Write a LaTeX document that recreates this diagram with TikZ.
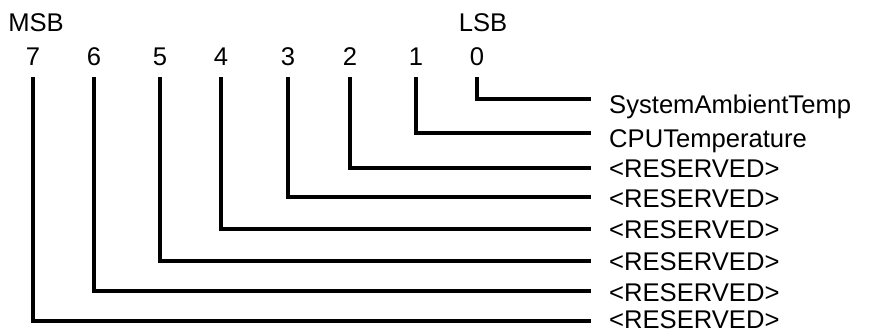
\documentclass[tikz,border=0pt]{standalone}
\usepackage{fontspec}
\setmainfont{Liberation Sans}
\usetikzlibrary{positioning}

\begin{document}
\begin{tikzpicture}[x=1pt, y=-1pt,
    bitnum/.style={font=\fontsize{25.6}{30}\selectfont, text height=18pt, text depth=0pt, inner xsep=0pt, inner ysep=12pt},
    bitlabel/.style={font=\fontsize{25.6}{30}\selectfont, anchor=west, text height=18pt, text depth=0pt, inner xsep=18pt, inner ysep=0pt},
    wire/.style={line width=3.6pt}
]
\useasboundingbox (0,0) rectangle (877,333);

% === Header ===
\node[bitnum] (msb) at (36,22) {MSB};
\node[bitnum] (lsb) at (483,22) {LSB};

% === Bits and their fields ===
\foreach \i/\x/\y/\dy/\txt in {0/477/99/5/{SystemAmbientTemp}, 1/416/133/5/{CPUTemperature},
    2/350/168/0/{<RESERVED>}, 3/288/197/1/{<RESERVED>}, 4/221/229/0/{<RESERVED>},
    5/160/261/0/{<RESERVED>}, 6/94/291/1/{<RESERVED>}, 7/33/321/-2/{<RESERVED>}} {
    \node[bitnum] (b\i) at (\x,56) {\i};
    \node[bitlabel] (l\i) at (591,\y+\dy) {\txt};
    \draw[wire] (b\i.south) |- ([yshift=\dy pt]l\i.west);
}

\end{tikzpicture}
\end{document}
